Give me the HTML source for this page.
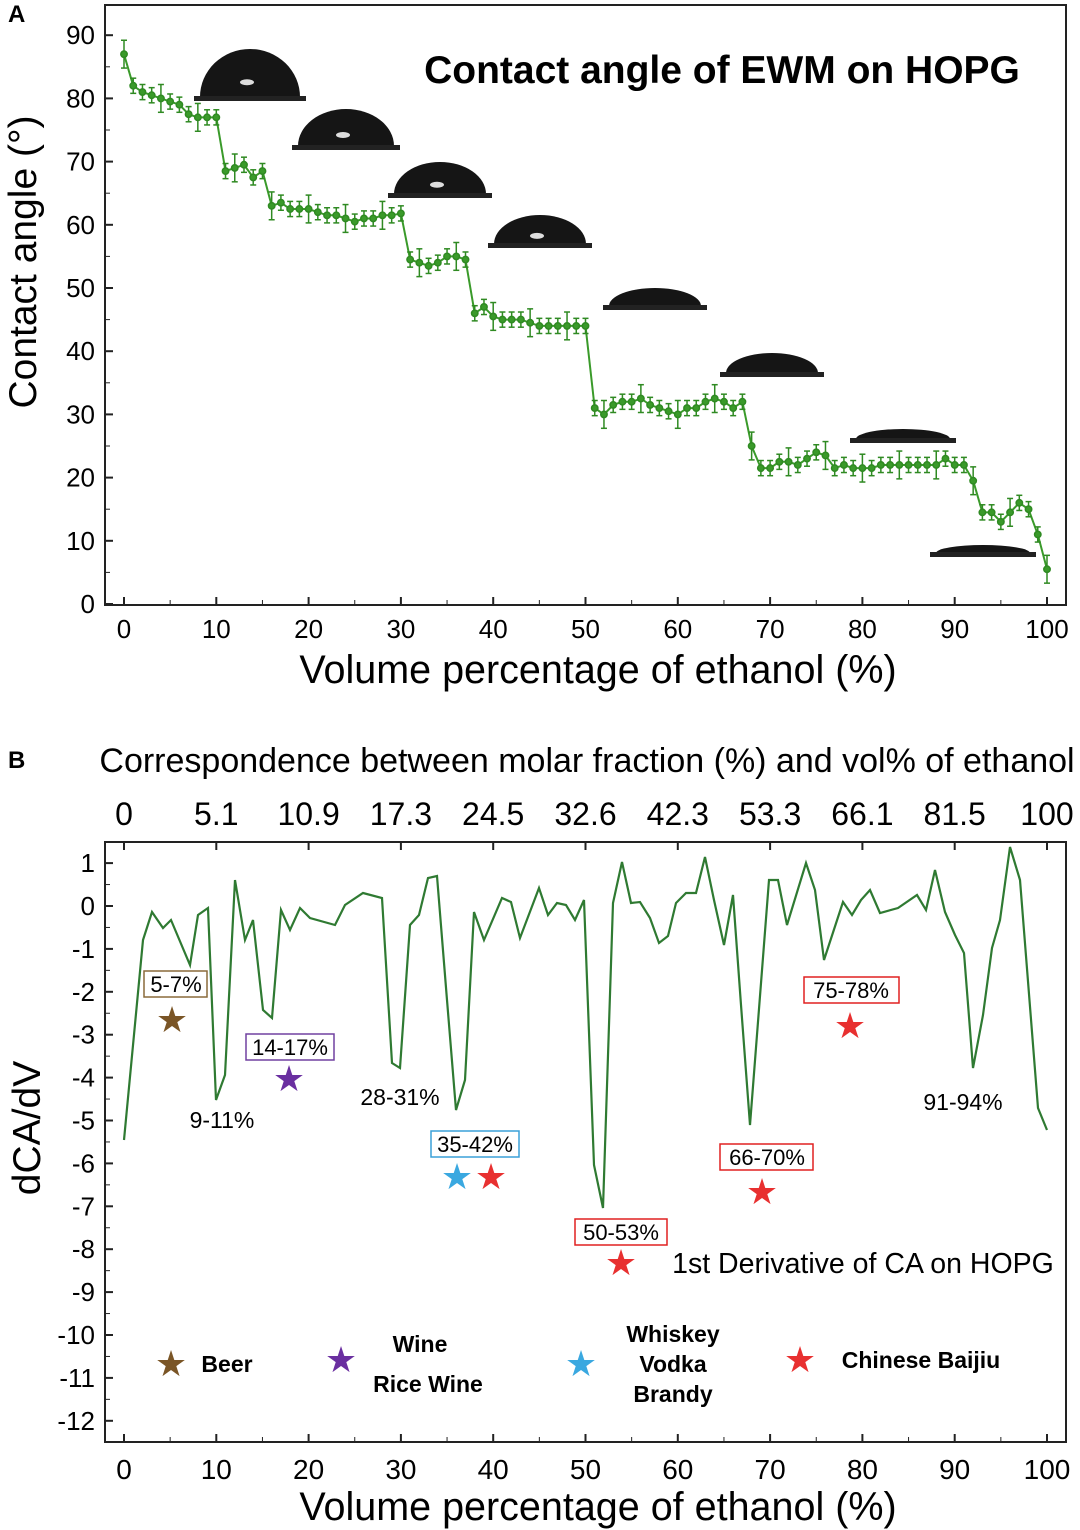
<!DOCTYPE html>
<html><head><meta charset="utf-8"><style>
html,body{margin:0;padding:0;background:#fff;}
svg{display:block;font-family:"Liberation Sans",sans-serif;}
</style></head><body>
<svg id="s" width="1080" height="1530" viewBox="0 0 1080 1530" xmlns="http://www.w3.org/2000/svg">
<rect width="1080" height="1530" fill="#fff"/>
<text x="8" y="22" font-size="24" font-weight="bold">A</text>
<text x="8" y="768" font-size="24" font-weight="bold">B</text>
<rect x="105" y="5" width="961" height="600" fill="none" stroke="#222" stroke-width="2"/>
<rect x="105" y="842" width="961" height="600" fill="none" stroke="#222" stroke-width="2"/>
<g id="g"></g>
<text x="722" y="83" font-size="39" font-weight="bold" text-anchor="middle">Contact angle of EWM on HOPG</text>
<text x="598" y="683" font-size="39.5" text-anchor="middle">Volume percentage of ethanol (%)</text>
<text x="598" y="1520" font-size="39.5" text-anchor="middle">Volume percentage of ethanol (%)</text>
<text transform="translate(36,262) rotate(-90)" font-size="39" text-anchor="middle">Contact angle (°)</text>
<text transform="translate(40,1128) rotate(-90)" font-size="39" text-anchor="middle">dCA/dV</text>
<text x="587" y="772" font-size="34" text-anchor="middle">Correspondence between molar fraction (%) and vol% of ethanol</text>
<g font-size="23" text-anchor="middle">
<text x="222" y="1128">9-11%</text>
<text x="400" y="1105">28-31%</text>
<text x="963" y="1110">91-94%</text>
<text x="863" y="1273" font-size="28.5">1st Derivative of CA on HOPG</text>
</g>
<g font-size="22" text-anchor="middle">
<rect x="144" y="971" width="63" height="26" fill="#fff" stroke="#8a6a3a" stroke-width="1.5"/><text x="176" y="992">5-7%</text>
<rect x="246" y="1034" width="88" height="26" fill="#fff" stroke="#7040a0" stroke-width="1.5"/><text x="290" y="1055">14-17%</text>
<rect x="431" y="1131" width="88" height="26" fill="#fff" stroke="#3aa0d8" stroke-width="1.5"/><text x="475" y="1152">35-42%</text>
<rect x="575" y="1219" width="92" height="26" fill="#fff" stroke="#e02020" stroke-width="1.5"/><text x="621" y="1240">50-53%</text>
<rect x="720" y="1144" width="93" height="26" fill="#fff" stroke="#e02020" stroke-width="1.5"/><text x="767" y="1165">66-70%</text>
<rect x="804" y="977" width="95" height="26" fill="#fff" stroke="#e02020" stroke-width="1.5"/><text x="851" y="998">75-78%</text>
</g>
<g font-size="36" text-anchor="middle">
<text x="172" y="1032" fill="#7a5526">★</text>
<text x="289" y="1091" fill="#6a2fa0">★</text>
<text x="457" y="1189" fill="#3aa8e0">★</text>
<text x="491" y="1189" fill="#e83030">★</text>
<text x="621" y="1275" fill="#e83030">★</text>
<text x="762" y="1204" fill="#e83030">★</text>
<text x="850" y="1038" fill="#e83030">★</text>
<text x="171" y="1376" fill="#7a5526">★</text>
<text x="341" y="1372" fill="#6a2fa0">★</text>
<text x="581" y="1376" fill="#3aa8e0">★</text>
<text x="800" y="1372" fill="#e83030">★</text>
</g>
<g font-size="23" font-weight="bold" text-anchor="middle">
<text x="227" y="1372">Beer</text>
<text x="420" y="1352">Wine</text>
<text x="428" y="1392">Rice Wine</text>
<text x="673" y="1342">Whiskey</text>
<text x="673" y="1372">Vodka</text>
<text x="673" y="1402">Brandy</text>
<text x="921" y="1368">Chinese Baijiu</text>
</g>
</svg>
<script>
(function(){
const g=document.getElementById('g');let h='';
const X=v=>124+v*9.23;
for(let i=0;i<=10;i++){let x=X(i*10);h+=`<line x1="${x}" y1="605" x2="${x}" y2="597" stroke="#222" stroke-width="2"/><text x="${x}" y="638" font-size="26" text-anchor="middle">${i*10}</text>`;
 h+=`<line x1="${x}" y1="1442" x2="${x}" y2="1434" stroke="#222" stroke-width="2"/><text x="${x}" y="1479" font-size="28" text-anchor="middle">${i*10}</text>`;
 if(i<10){let m=X(i*10+5);h+=`<line x1="${m}" y1="605" x2="${m}" y2="600" stroke="#222"/><line x1="${m}" y1="1442" x2="${m}" y2="1437" stroke="#222"/>`;}}
const YA=v=>604-v*6.32;
for(let v=0;v<=90;v+=10){let y=YA(v);h+=`<line x1="105" y1="${y}" x2="113" y2="${y}" stroke="#222" stroke-width="2"/><text x="95" y="${y+9}" font-size="26" text-anchor="end">${v}</text>`;if(v<90)h+=`<line x1="105" y1="${YA(v+5)}" x2="110" y2="${YA(v+5)}" stroke="#222"/>`;}
const YB=v=>906-v*42.9;
for(let v=1;v>=-12;v--){let y=YB(v);h+=`<line x1="105" y1="${y}" x2="113" y2="${y}" stroke="#222" stroke-width="2"/><text x="95" y="${y+9}" font-size="26" text-anchor="end">${v}</text>`;if(v>-12)h+=`<line x1="105" y1="${YB(v-0.5)}" x2="110" y2="${YB(v-0.5)}" stroke="#222"/>`;}
const topLbl=['0','5.1','10.9','17.3','24.5','32.6','42.3','53.3','66.1','81.5','100'];
topLbl.forEach((t,i)=>{let x=X(i*10);h+=`<line x1="${x}" y1="842" x2="${x}" y2="850" stroke="#222" stroke-width="2"/><text x="${x}" y="825" font-size="32" text-anchor="middle">${t}</text>`;});
[[250,99,50,48],[346,148,48,37],[440,196,46,32],[540,246,46,29],[655,308,46,18],[772,375,46,20],[903,441,47,10],[983,555,47,8]].forEach(([cx,by,rx,ry])=>{
 h+=`<path d="M${cx-rx},${by-2} A${rx},${ry} 0 0 1 ${cx+rx},${by-2} Z" fill="#151515"/><rect x="${cx-rx-6}" y="${by-3}" width="${2*rx+12}" height="5" fill="#222"/>`;
 if(ry>25)h+=`<ellipse cx="${cx-3}" cy="${by-ry*0.35}" rx="7" ry="3" fill="#ddd"/>`;});
const d=[87,82,81,80.5,80,79.5,79,77.5,77,77,77,68.5,69,69.5,67.5,68.5,63,63.5,62.5,62.5,62.5,62,61.5,61.5,61,60.5,61,61,61.5,61.5,61.8,54.5,54,53.5,54,55,55,54.5,46,47,45.5,45,45,45,44.5,44,44,44,44,44,44,31,30,31.5,32,32,32.5,31.5,31,30.5,30,31,31,32,32.5,32,31,32,25,21.5,21.5,22.5,22.5,22,23,24,23.5,21.5,22,21.5,21.5,21.5,22,22,22,22,22,22,22,23,22,22,19.5,14.5,14.5,13,14.5,16,15,11,5.5];
const n=d.length;let p='';let eb='';
d.forEach((v,i)=>{let x=X(i*100/(n-1)),y=YA(v);p+=(i?'L':'M')+x.toFixed(1)+','+y.toFixed(1);
 let e=(i%4==0?2.2:1.2)*6.32;eb+=`<line x1="${x}" y1="${y-e}" x2="${x}" y2="${y+e}"/><line x1="${x-3}" y1="${y-e}" x2="${x+3}" y2="${y-e}"/><line x1="${x-3}" y1="${y+e}" x2="${x+3}" y2="${y+e}"/><circle cx="${x}" cy="${y}" r="3.2" fill="#3a9a2a"/>`;});
h+=`<path d="${p}" fill="none" stroke="#3a9a2a" stroke-width="2"/><g stroke="#2f8a22" stroke-width="1.5">${eb}</g>`;
const b=[[124,1140],[143,940],[152,912],[163,928],[171,920],[190,965],[198,915],[208,908],[216,1100],[225,1075],[235,880],[245,940],[253,920],[263,1010],[272,1018],[281,910],[290,930],[300,908],[310,918],[335,925],[345,905],[363,893],[382,898],[392,1063],[400,1068],[410,925],[419,915],[428,878],[437,876],[447,1000],[456,1110],[465,1080],[474,912],[484,940],[502,898],[511,902],[520,938],[539,888],[548,915],[557,903],[566,905],[575,920],[584,900],[594,1165],[603,1208],[613,903],[622,862],[631,903],[640,902],[650,918],[659,943],[668,936],[676,903],[686,893],[696,893],[705,857],[714,900],[724,945],[733,895],[741,1005],[750,1125],[769,880],[778,880],[787,925],[806,863],[815,890],[824,960],[843,902],[852,915],[861,900],[870,890],[880,913],[898,908],[917,895],[926,910],[935,870],[945,912],[955,935],[964,953],[973,1068],[983,1015],[992,948],[1000,920],[1010,847],[1020,880],[1038,1108],[1047,1130]];
h+=`<polyline points="${b.map(q=>q.join(',')).join(' ')}" fill="none" stroke="#2f7a32" stroke-width="2.2"/>`;
g.innerHTML=h;
})();
</script>
</body></html>
